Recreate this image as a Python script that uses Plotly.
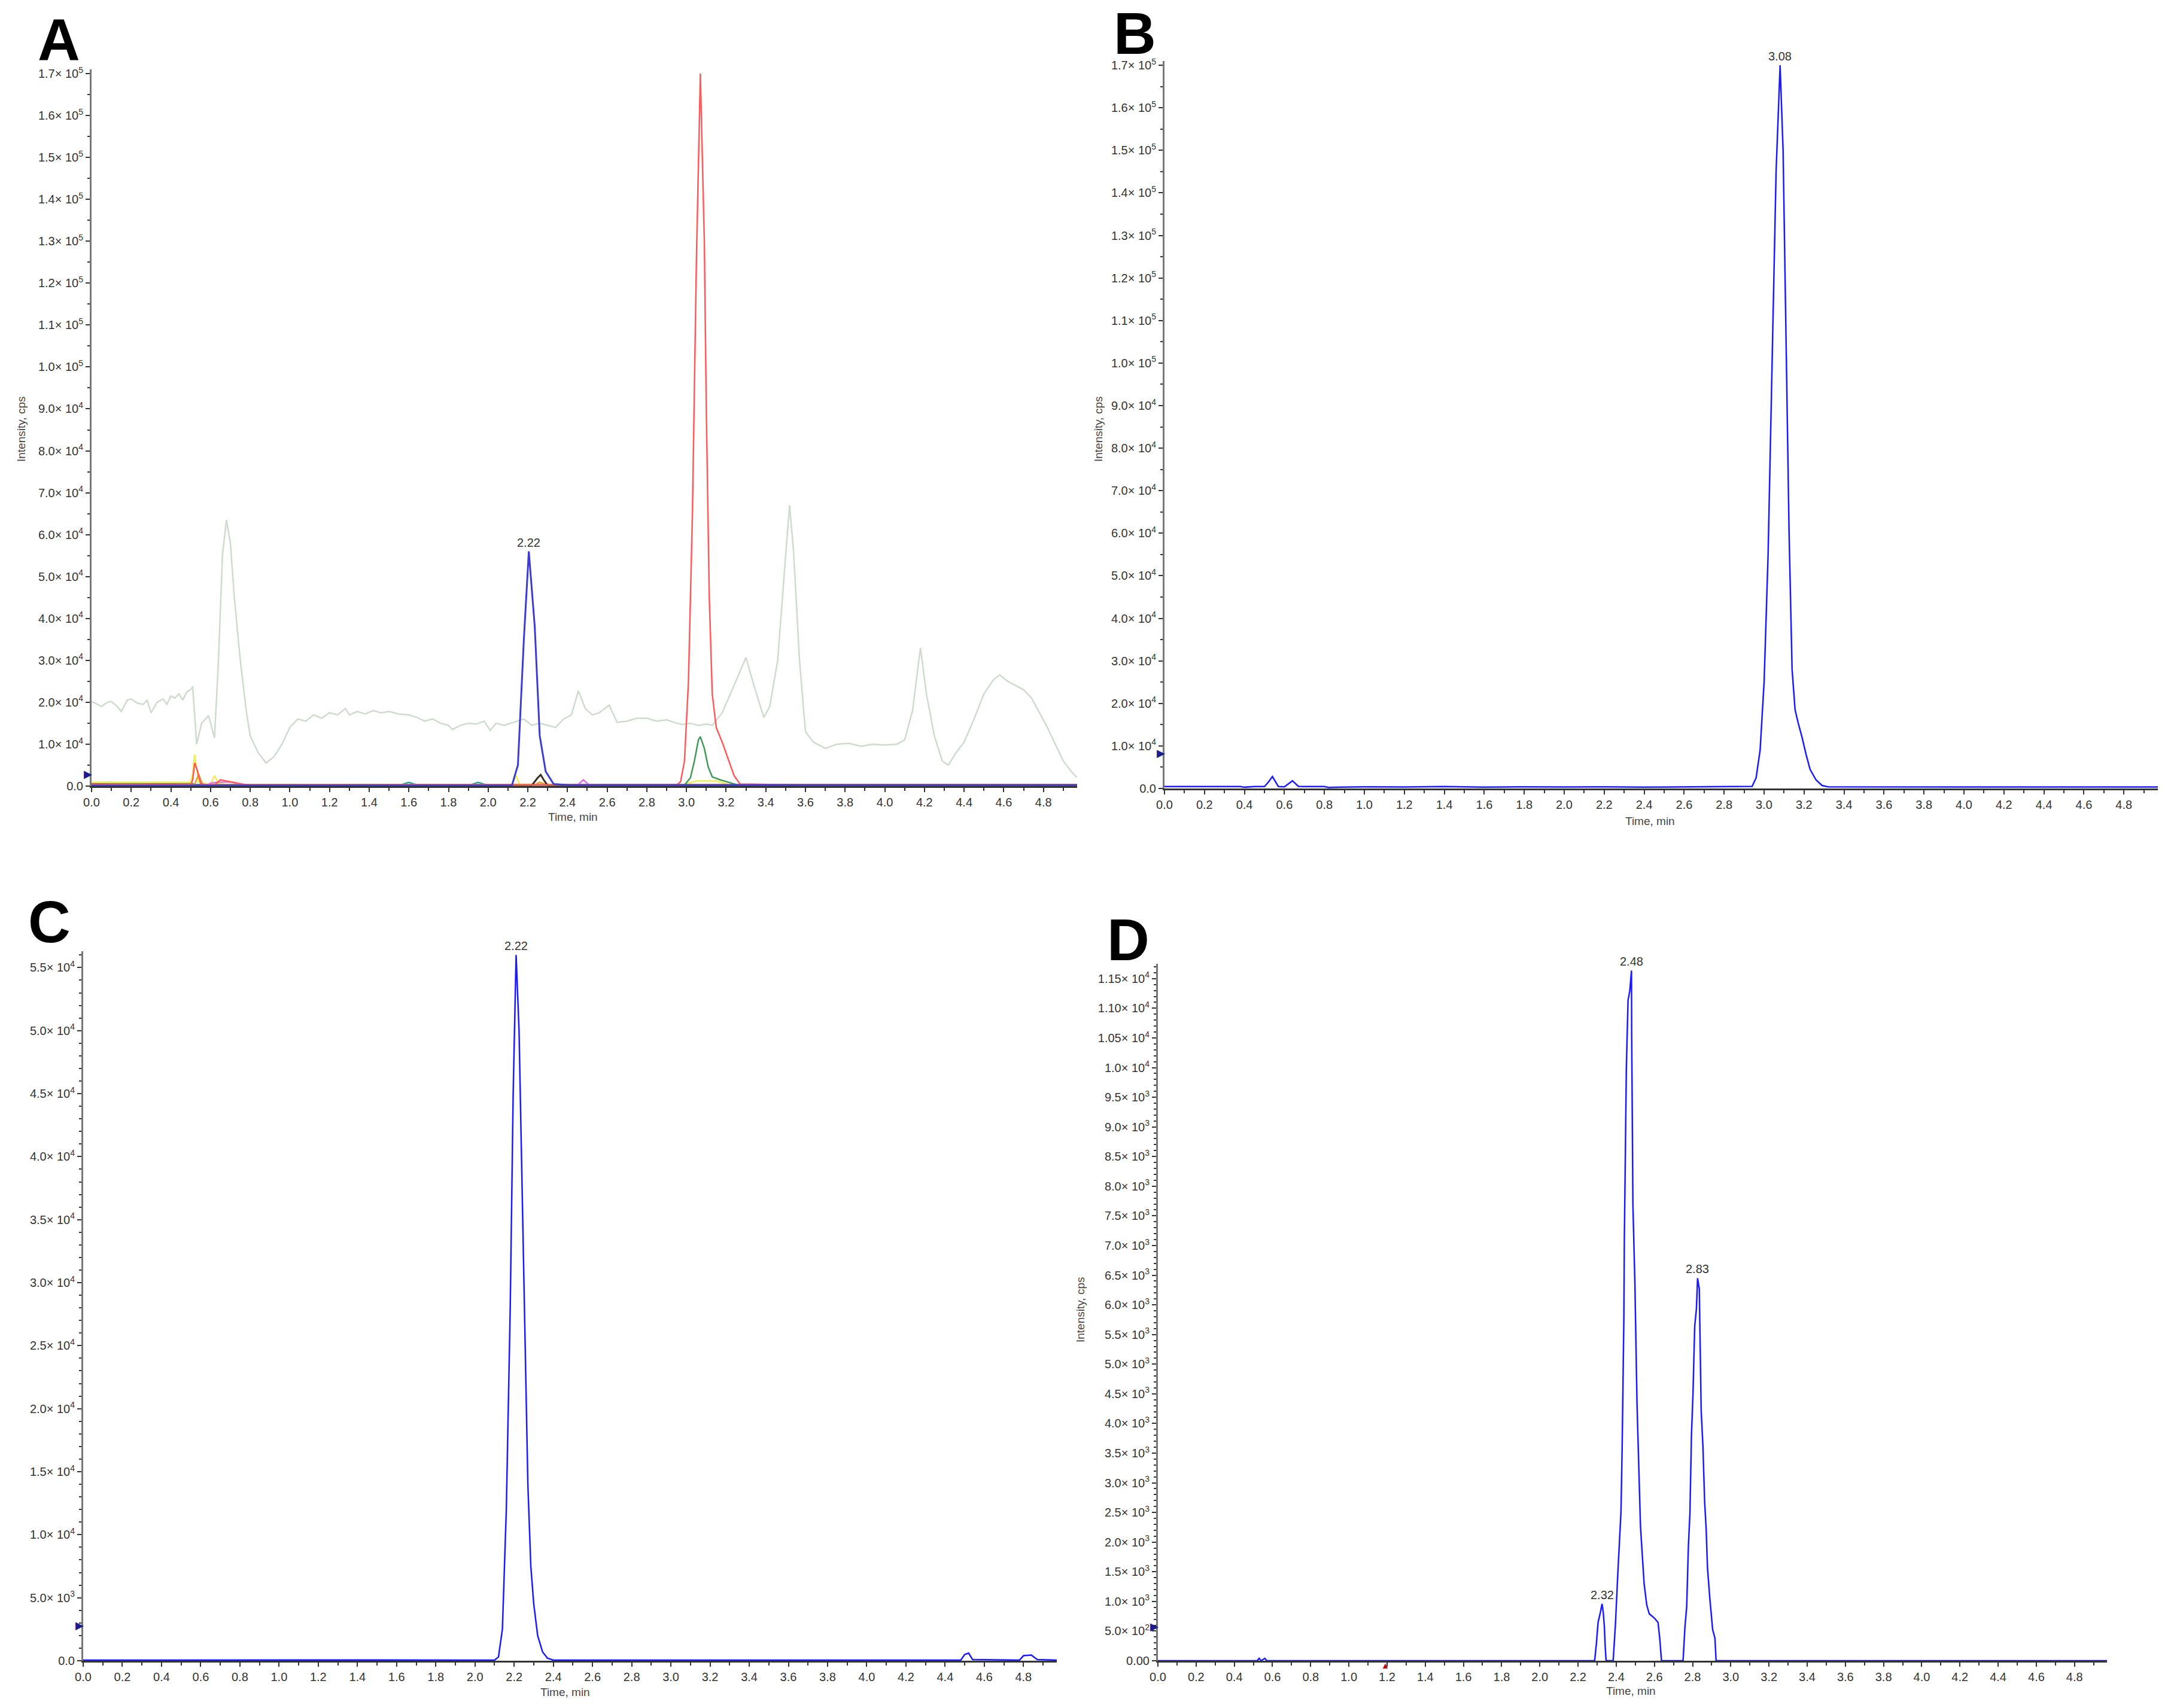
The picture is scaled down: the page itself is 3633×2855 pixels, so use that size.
import plotly.graph_objects as go

W, H = 3633, 2855

# ---------------- Panel A (overlay of several XICs) ----------------
A_gray_t = [0.00, 0.03, 0.05, 0.08, 0.10, 0.13, 0.15, 0.18, 0.20, 0.23, 0.26, 0.28, 0.30, 0.33, 0.36, 0.38,
            0.40, 0.42, 0.44, 0.46, 0.48, 0.50, 0.51, 0.53, 0.555, 0.59, 0.62, 0.64, 0.66, 0.68, 0.70, 0.72,
            0.75, 0.78, 0.80, 0.84, 0.88, 0.92, 0.96, 1.00, 1.04, 1.08, 1.12, 1.16, 1.20, 1.24, 1.28, 1.30,
            1.34, 1.38, 1.42, 1.46, 1.50, 1.55, 1.60, 1.64, 1.68, 1.72, 1.76, 1.80, 1.82, 1.86, 1.90, 1.94,
            1.98, 2.01, 2.04, 2.08, 2.13, 2.18, 2.22, 2.26, 2.30, 2.34, 2.38, 2.42, 2.455, 2.49, 2.525, 2.56,
            2.61, 2.65, 2.70, 2.75, 2.80, 2.85, 2.90, 2.95, 2.98, 3.02, 3.06, 3.10, 3.13, 3.18, 3.24, 3.30,
            3.34, 3.39, 3.42, 3.46, 3.50, 3.52, 3.54, 3.57, 3.60, 3.64, 3.70, 3.76, 3.82, 3.88, 3.94, 4.00,
            4.06, 4.10, 4.14, 4.18, 4.21, 4.25, 4.29, 4.32, 4.36, 4.40, 4.45, 4.50, 4.55, 4.58, 4.62, 4.66,
            4.70, 4.74, 4.78, 4.82, 4.86, 4.90, 4.94, 4.97]
A_gray_y = [20200, 19500, 19000, 20000, 20200, 19000, 17800, 20500, 20800, 19800, 19500, 20500, 17500, 20000, 20800, 19500,
            21500, 21000, 22000, 20500, 22500, 23000, 23800, 10000, 15000, 16800, 11500, 30000, 55000, 63500, 58000, 45000,
            30000, 18000, 12000, 8000, 5500, 7000, 10000, 14000, 16000, 15500, 17000, 16200, 17500, 17000, 18500, 17000,
            17800, 17200, 18000, 17500, 17800, 17200, 17000, 16400, 15500, 16000, 15000, 14500, 13500, 14500, 15000, 14800,
            15500, 13300, 15000, 14500, 15200, 16000, 14500, 15000, 14500, 14000, 16000, 17000, 22700, 18500, 17000, 17500,
            19300, 15200, 15500, 16200, 16200, 15500, 15800, 15000, 14700, 15000, 14500, 14800, 14500, 17500, 24000, 30700,
            24000, 16400, 19000, 30000, 55000, 67000, 56000, 30000, 13000, 10500, 9000, 10000, 10200, 9500, 10000, 9800,
            10000, 11000, 18000, 33000, 22000, 12000, 6000, 5000, 8000, 10500, 16000, 22000, 25500, 26500, 25000, 24000,
            23000, 21000, 17500, 14000, 10000, 6000, 3500, 2000]

A_red_t = [0.00, 0.20, 0.40, 0.50, 0.51, 0.52, 0.535, 0.55, 0.58, 0.62, 0.65, 0.68, 0.72, 0.78, 1.20, 2.00,
           2.80, 2.95, 2.97, 2.99, 3.01, 3.03, 3.05, 3.07, 3.09, 3.10, 3.115, 3.13, 3.15, 3.18, 3.21, 3.24,
           3.27, 3.60, 4.20, 4.97]
A_red_y = [400, 300, 400, 300, 1500, 5500, 3500, 600, 300, 300, 1500, 1200, 900, 300, 250, 300,
           250, 300, 1000, 6000, 25000, 65000, 125000, 170000, 130000, 90000, 45000, 22000, 14000, 10500, 6500, 2500,
           500, 250, 250, 250]

A_blue_t = [0.00, 1.00, 2.00, 2.12, 2.15, 2.18, 2.205, 2.235, 2.26, 2.29, 2.33, 2.40, 3.00, 4.00, 4.97]
A_blue_y = [150, 150, 150, 200, 5000, 35000, 56000, 38000, 12000, 3500, 500, 250, 250, 250, 250]

A_green_t = [0.00, 1.00, 2.00, 2.99, 3.02, 3.04, 3.06, 3.07, 3.09, 3.11, 3.13, 3.17, 3.22, 3.26, 4.00, 4.97]
A_green_y = [250, 250, 250, 250, 2000, 6000, 11000, 11800, 9000, 4500, 2200, 1500, 800, 250, 250, 250]

A_brown_t = [0.00, 1.00, 2.22, 2.25, 2.265, 2.28, 2.30, 3.00, 4.97]
A_brown_y = [150, 150, 150, 2000, 2700, 1500, 150, 150, 150]

A_magenta_t = [0.00, 0.58, 0.60, 0.63, 0.70, 0.75, 0.80, 2.45, 2.48, 2.51, 4.97]
A_magenta_y = [200, 200, 700, 900, 1000, 500, 200, 200, 1500, 200, 200]

A_yellow_t = [0.00, 0.50, 0.51, 0.52, 0.54, 0.60, 0.62, 0.64, 0.70, 2.12, 2.14, 2.16, 2.98, 3.05, 3.15, 3.22, 4.97]
A_yellow_y = [900, 900, 3000, 7500, 900, 300, 2500, 600, 300, 300, 2500, 300, 300, 1200, 1200, 300, 300]

A_orange_t = [0.00, 0.52, 0.54, 0.56, 2.24, 2.26, 2.29, 4.97]
A_orange_y = [400, 400, 2800, 400, 400, 900, 400, 400]

A_olive_t = [0.00, 0.10, 0.20, 0.30, 0.40, 0.50, 0.52, 0.80, 1.20, 1.60, 2.00, 2.40, 2.80, 3.20, 3.60, 4.00, 4.40, 4.97]
A_olive_y = [700, 800, 650, 750, 700, 750, 300, 300, 350, 300, 300, 250, 300, 300, 250, 300, 300, 300]

A_teal_t = [0.00, 1.55, 1.60, 1.65, 1.90, 1.95, 2.00, 4.97]
A_teal_y = [200, 200, 900, 200, 200, 900, 200, 200]

# ---------------- Panel B ----------------
B_t = [0.00, 0.38, 0.40, 0.45, 0.50, 0.52, 0.54, 0.57, 0.60, 0.64, 0.67, 0.70, 0.80, 0.82, 0.88, 1.00,
       1.20, 1.40, 1.60, 1.80, 2.00, 2.20, 2.40, 2.60, 2.80, 2.94, 2.96, 2.98, 3.00, 3.02, 3.04, 3.06,
       3.08, 3.095, 3.11, 3.125, 3.14, 3.155, 3.17, 3.19, 3.21, 3.23, 3.26, 3.29, 3.32, 3.60, 4.00, 4.40, 4.97]
B_y = [450, 450, 300, 450, 450, 1500, 2800, 450, 400, 1800, 500, 450, 450, 250, 300, 400,
       350, 450, 300, 400, 350, 400, 300, 350, 400, 500, 2500, 9000, 25000, 55000, 100000, 145000,
       170000, 150000, 105000, 60000, 28000, 18500, 15500, 12000, 8000, 4500, 2000, 700, 400, 350, 350, 350, 350]

# ---------------- Panel C ----------------
C_t = [0.00, 0.50, 1.00, 1.50, 2.00, 2.10, 2.12, 2.14, 2.16, 2.18, 2.195, 2.21, 2.225, 2.24, 2.255, 2.27,
       2.285, 2.30, 2.32, 2.345, 2.37, 2.40, 3.00, 4.00, 4.48, 4.50, 4.52, 4.54, 4.78, 4.80, 4.84, 4.87, 4.97]
C_y = [50, 60, 50, 60, 50, 50, 300, 2500, 12000, 28000, 45000, 56000, 50000, 38000, 26000, 14000,
       7500, 4500, 2000, 700, 200, 50, 50, 50, 50, 500, 600, 100, 50, 400, 450, 100, 50]

# ---------------- Panel D ----------------
D_t = [0.00, 0.52, 0.53, 0.54, 0.56, 0.57, 2.28, 2.287, 2.296, 2.305, 2.317, 2.326, 2.332, 2.338, 2.342, 2.347,
       2.384, 2.396, 2.408, 2.416, 2.425, 2.431, 2.436, 2.440, 2.4425, 2.448, 2.453, 2.462, 2.471, 2.480, 2.481, 2.4875,
       2.498, 2.509, 2.518, 2.527, 2.536, 2.546, 2.560, 2.573, 2.600, 2.619, 2.628, 2.637, 2.750, 2.760, 2.769, 2.778,
       2.786, 2.794, 2.802, 2.811, 2.820, 2.826, 2.835, 2.838, 2.845, 2.854, 2.863, 2.871, 2.878, 2.890, 2.905, 2.917,
       2.923, 3.50, 4.97]
D_y = [0, 0, 40, 0, 40, 0, 0, 0, 281, 645, 815, 960, 815, 572, 257, 0,
       0, 620, 1445, 1980, 2512, 3580, 4670, 5760, 7066, 8545, 9985, 11137, 11290, 11636, 10560, 7680,
       6335, 4320, 3243, 2272, 1811, 1300, 937, 791, 718, 645, 378, 0, 0, 572, 912, 1930,
       2488, 3798, 4500, 5640, 5932, 6450, 6270, 5592, 4210, 3628, 2682, 2221, 1567, 1057, 524, 378,
       0, 0, 0]

# ---------------- Tick labels ----------------
AB_tickvals = [0, 10000, 20000, 30000, 40000, 50000, 60000, 70000, 80000, 90000,
               100000, 110000, 120000, 130000, 140000, 150000, 160000, 170000]
AB_ticktext = ["0.0", "1.0× 10<sup>4</sup>", "2.0× 10<sup>4</sup>", "3.0× 10<sup>4</sup>", "4.0× 10<sup>4</sup>",
               "5.0× 10<sup>4</sup>", "6.0× 10<sup>4</sup>", "7.0× 10<sup>4</sup>", "8.0× 10<sup>4</sup>",
               "9.0× 10<sup>4</sup>", "1.0× 10<sup>5</sup>", "1.1× 10<sup>5</sup>", "1.2× 10<sup>5</sup>",
               "1.3× 10<sup>5</sup>", "1.4× 10<sup>5</sup>", "1.5× 10<sup>5</sup>", "1.6× 10<sup>5</sup>",
               "1.7× 10<sup>5</sup>"]
C_tickvals = [0, 5000, 10000, 15000, 20000, 25000, 30000, 35000, 40000, 45000, 50000, 55000]
C_ticktext = ["0.0", "5.0× 10<sup>3</sup>", "1.0× 10<sup>4</sup>", "1.5× 10<sup>4</sup>", "2.0× 10<sup>4</sup>",
              "2.5× 10<sup>4</sup>", "3.0× 10<sup>4</sup>", "3.5× 10<sup>4</sup>", "4.0× 10<sup>4</sup>",
              "4.5× 10<sup>4</sup>", "5.0× 10<sup>4</sup>", "5.5× 10<sup>4</sup>"]
D_tickvals = [0, 500, 1000, 1500, 2000, 2500, 3000, 3500, 4000, 4500, 5000, 5500, 6000, 6500, 7000, 7500,
              8000, 8500, 9000, 9500, 10000, 10500, 11000, 11500]
D_ticktext = ["0.00", "5.0× 10<sup>2</sup>", "1.0× 10<sup>3</sup>", "1.5× 10<sup>3</sup>", "2.0× 10<sup>3</sup>",
              "2.5× 10<sup>3</sup>", "3.0× 10<sup>3</sup>", "3.5× 10<sup>3</sup>", "4.0× 10<sup>3</sup>",
              "4.5× 10<sup>3</sup>", "5.0× 10<sup>3</sup>", "5.5× 10<sup>3</sup>", "6.0× 10<sup>3</sup>",
              "6.5× 10<sup>3</sup>", "7.0× 10<sup>3</sup>", "7.5× 10<sup>3</sup>", "8.0× 10<sup>3</sup>",
              "8.5× 10<sup>3</sup>", "9.0× 10<sup>3</sup>", "9.5× 10<sup>3</sup>", "1.0× 10<sup>4</sup>",
              "1.05× 10<sup>4</sup>", "1.10× 10<sup>4</sup>", "1.15× 10<sup>4</sup>"]

# peak labels
A_peaks = [(2.205, 56000, "2.22")]
B_peaks = [(3.08, 170000, "3.08")]
C_peaks = [(2.21, 56000, "2.22")]
D_peaks = [(2.48, 11636, "2.48"), (2.826, 6450, "2.83"), (2.326, 960, "2.32")]

# ---------------- Figure ----------------
fig = go.Figure()

def px(x):
    return x / W

def py(y):
    return 1 - y / H

TICKFONT = dict(family="Liberation Sans Narrow, Liberation Sans, Arial", size=20, color="#333333")
YTICKFONT = dict(family="Liberation Sans, Arial", size=20, color="#333333")

def add_line(t, y, color, ax, width=2.5):
    fig.add_trace(go.Scatter(x=t, y=y, mode="lines", line=dict(color=color, width=width),
                             xaxis="x" + ax, yaxis="y" + ax, showlegend=False, hoverinfo="skip"))

# Panel A traces (draw gray first, then others)
add_line(A_gray_t, A_gray_y, "#cddccd", "")
add_line(A_olive_t, A_olive_y, "#7a7440", "", 3.5)
add_line(A_teal_t, A_teal_y, "#2aa198", "")
add_line(A_yellow_t, A_yellow_y, "#eeee55", "")
add_line(A_orange_t, A_orange_y, "#e69a30", "")
add_line(A_magenta_t, A_magenta_y, "#e070e0", "")
add_line(A_brown_t, A_brown_y, "#3a2e22", "", 3)
add_line(A_green_t, A_green_y, "#3f9a55", "")
add_line(A_red_t, A_red_y, "#ff5a5a", "")
add_line(A_blue_t, A_blue_y, "#3c3cd2", "", 3)

add_line(B_t, B_y, "#1a1aff", "2")
add_line(C_t, C_y, "#1a1aff", "3")
add_line(D_t, D_y, "#1a1aff", "4")

# layout geometry (pixels)
geo = {
    "": dict(x0=153, x1=1800, yb=1314, yt=116, ytop=171000, yt_vals=AB_tickvals, yt_text=AB_ticktext, minor=5000),
    "2": dict(x0=1946, x1=3606, yb=1318, yt=102, ytop=171000, yt_vals=AB_tickvals, yt_text=AB_ticktext, minor=5000),
    "3": dict(x0=139, x1=1766, yb=2776, yt=1590, ytop=56300, yt_vals=C_tickvals, yt_text=C_ticktext, minor=1000),
    "4": dict(x0=1935, x1=3521, yb=2776, yt=1611, ytop=11750, yt_vals=D_tickvals, yt_text=D_ticktext, minor=100),
}

layout = dict(width=W, height=H, margin=dict(l=0, r=0, t=0, b=0, autoexpand=False),
              paper_bgcolor="white", plot_bgcolor="white", showlegend=False)

for ax, g in geo.items():
    xname = "xaxis" + ax
    yname = "yaxis" + ax
    layout[xname] = dict(domain=[px(g["x0"]), px(g["x1"])], range=[0, 4.97], anchor="y" + ax,
                         tick0=0, dtick=0.2, tickformat=".1f", ticks="outside", ticklen=7, tickwidth=2,
                         tickcolor="#333333", showline=True, linecolor="#333333", linewidth=3,
                         showgrid=False, zeroline=False, tickfont=TICKFONT, automargin=False,
                         minor=dict(dtick=0.1, tick0=0, ticks="outside", ticklen=5, tickwidth=2, tickcolor="#333333"))
    layout[yname] = dict(domain=[py(g["yb"]), py(g["yt"])], range=[0, g["ytop"]], anchor="x" + ax,
                         tickmode="array", tickvals=g["yt_vals"], ticktext=g["yt_text"],
                         ticks="outside", ticklen=7, tickwidth=2, tickcolor="#333333",
                         showline=True, linecolor="#777777", linewidth=3, showgrid=False, zeroline=False,
                         tickfont=YTICKFONT, automargin=False,
                         minor=dict(dtick=g["minor"], tick0=0, ticks="outside", ticklen=4, tickwidth=2,
                                    tickcolor="#333333"))

fig.update_layout(**layout)

ann = []
# panel letters
for txt, x, y in [("A", 98, 66), ("B", 1896, 56), ("C", 82, 1541), ("D", 1885, 1571)]:
    ann.append(dict(text="<b>%s</b>" % txt, x=px(x), y=py(y), xref="paper", yref="paper",
                    showarrow=False, xanchor="center", yanchor="middle",
                    font=dict(family="Liberation Sans, Arial", size=98, color="black")))

# axis titles
AXTITLE = dict(family="Liberation Sans Narrow, Liberation Sans, Arial", size=19, color="#444444")
for x, y in [(957, 1365), (2757, 1372), (945, 2828), (2725, 2826)]:
    ann.append(dict(text="Time, min", x=px(x), y=py(y), xref="paper", yref="paper", showarrow=False,
                    xanchor="center", yanchor="middle", font=AXTITLE))
for x, y in [(35, 718), (1835, 718), (1805, 2190)]:
    ann.append(dict(text="Intensity, cps", x=px(x), y=py(y), xref="paper", yref="paper", showarrow=False,
                    textangle=-90, xanchor="center", yanchor="middle", font=AXTITLE))

# peak labels
for ax, peaks in [("", A_peaks), ("2", B_peaks), ("3", C_peaks), ("4", D_peaks)]:
    for t, v, lab in peaks:
        ann.append(dict(text=lab, x=t, y=v, xref="x" + ax, yref="y" + ax, showarrow=False,
                        xanchor="center", yanchor="bottom", yshift=2,
                        font=dict(family="Liberation Sans Narrow, Liberation Sans, Arial", size=20, color="#333333")))

# threshold markers on y axes
for ax, v in [("", 3000), ("2", 8500), ("3", 2860), ("4", 584)]:
    ann.append(dict(text="▶", x=0, y=v, xref="x" + ax, yref="y" + ax, showarrow=False,
                    xanchor="right", yanchor="middle", xshift=3,
                    font=dict(size=18, color="#1c1c8c")))
# small red marker on D axis
ann.append(dict(text="▲", x=1.19, y=0, xref="x4", yref="y4", showarrow=False, xanchor="center",
                yanchor="top", yshift=4, font=dict(size=14, color="#c00000")))

fig.update_layout(annotations=ann)
fig.write_html("out.html", config={"displayModeBar": False},
               post_script="document.body.style.margin='0px';")
